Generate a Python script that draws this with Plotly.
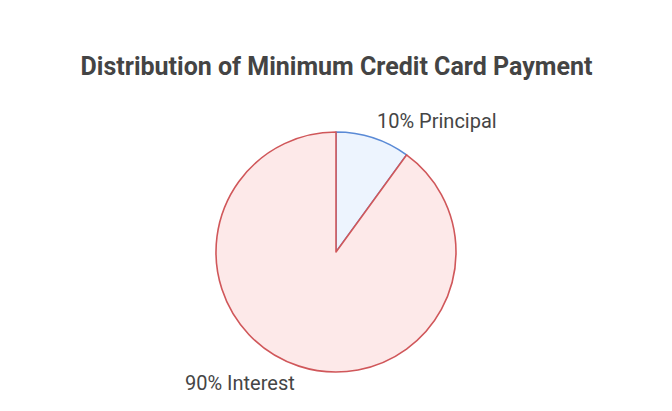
import plotly.graph_objects as go

categories = ["Principal", "Interest"]
values = [10, 90]
fill_colors = ["#EDF4FE", "#FDE9E9"]
line_colors = ["#5A8AD6", "#D0575A"]

W, H = 672, 411
OFF = 8  # page offset of the plot div

def px_x(p):
    return (p - OFF) / W

def px_y(p):
    return (H - (p - OFF)) / H

fig = go.Figure()
fig.add_trace(go.Pie(
    labels=categories, values=values, sort=False, direction="clockwise",
    rotation=0, textinfo="none", hoverinfo="label+percent",
    marker=dict(colors=fill_colors, line=dict(color=line_colors, width=1.6)),
    domain=dict(x=[px_x(216), px_x(456)], y=[px_y(372), px_y(132)]),
    showlegend=False,
))

total = sum(values)
label_pos = [(px_x(436.5), px_y(121)), (px_x(240), px_y(383))]
for cat, v, (lx, ly) in zip(categories, values, label_pos):
    fig.add_annotation(
        x=lx, y=ly, xref="paper", yref="paper", showarrow=False,
        text=f"{round(100 * v / total)}% {cat}",
        font=dict(family="Roboto", size=20, color="#454545"),
        xanchor="center", yanchor="middle",
    )

fig.update_layout(
    width=W, height=H,
    margin=dict(l=0, r=0, t=0, b=0),
    paper_bgcolor="white", plot_bgcolor="white",
    title=dict(text="<b>Distribution of Minimum Credit Card Payment</b>",
               x=px_x(336.5), xanchor="center", y=px_y(66), yanchor="middle",
               font=dict(family="Roboto", size=25, color="#444444")),
)
fig.write_html("out.html")
